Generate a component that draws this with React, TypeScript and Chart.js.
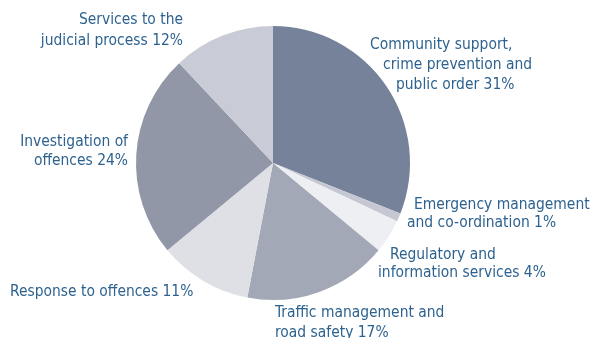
import React, { useEffect, useRef } from "react";
import { Chart, registerables } from "chart.js";

Chart.register(...registerables);

const categories = [
  "Community support, crime prevention and public order",
  "Emergency management and co-ordination",
  "Regulatory and information services",
  "Traffic management and road safety",
  "Response to offences",
  "Investigation of offences",
  "Services to the judicial process",
];
const values = [31, 1, 4, 17, 11, 24, 12];
const colors = ["#76829a", "#c5c8d2", "#eeeff2", "#a3a8b7", "#dfe0e5", "#9297a8", "#c9ccd6"];

// label lines: [text, x offset from pie centre, y offset from pie centre, align]
const labelLines: [string, number, number, CanvasTextAlign][] = [
  ["Community support,", 97, -118, "left"],
  ["crime prevention and", 110, -98, "left"],
  ["public order 31%", 123, -78, "left"],
  ["Emergency management", 141, 42, "left"],
  ["and co-ordination 1%", 134, 60, "left"],
  ["Regulatory and", 117, 92, "left"],
  ["information services 4%", 105, 110, "left"],
  ["Traffic management and", 2, 150, "left"],
  ["road safety 17%", 2, 170, "left"],
  ["Response to offences 11%", -263, 129, "left"],
  ["Investigation of", -145, -21, "right"],
  ["offences 24%", -145, -2, "right"],
  ["Services to the", -90, -143, "right"],
  ["judicial process 12%", -90, -122, "right"],
];

const labelPlugin = {
  id: "pieLabels",
  afterDraw(chart: any) {
    const arc = chart.getDatasetMeta(0).data[0];
    if (!arc) return;
    const cx = arc.x;
    const cy = arc.y;
    const ctx = chart.ctx;
    ctx.save();
    ctx.fillStyle = "#2d6290";
    ctx.font = "16.5px 'Liberation Sans Narrow', 'DejaVu Sans Condensed', sans-serif";
    ctx.textBaseline = "middle";
    for (const [t, dx, dy, al] of labelLines) {
      ctx.save();
      ctx.translate(cx + dx, cy + dy);
      ctx.scale(0.935, 1);
      ctx.textAlign = al;
      ctx.fillText(t, 0, 0);
      ctx.restore();
    }
    ctx.restore();
  },
};

export default function App() {
  const ref = useRef<HTMLCanvasElement>(null);
  useEffect(() => {
    document.body.style.margin = "0";
    const chart = new Chart(ref.current!, {
      type: "pie",
      data: {
        labels: categories,
        datasets: [
          {
            data: values,
            backgroundColor: colors,
            borderWidth: 0,
          },
        ],
      },
      options: {
        responsive: false,
        animation: false,
        layout: { padding: { left: 136, right: 180, top: 26, bottom: 38 } },
        plugins: { legend: { display: false }, tooltip: { enabled: false } },
      },
      plugins: [labelPlugin],
    });
    return () => chart.destroy();
  }, []);
  return (
    <div style={{ width: 590, height: 338, background: "#fff" }}>
      <canvas ref={ref} width={590} height={338} />
    </div>
  );
}
